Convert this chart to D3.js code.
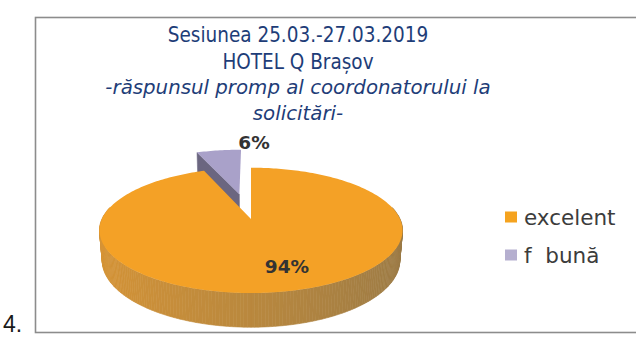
<!DOCTYPE html>
<html>
<head>
<meta charset="utf-8">
<script src="https://cdn.jsdelivr.net/npm/d3@7/dist/d3.min.js"></script>
<style>
  html, body { margin: 0; padding: 0; background: #ffffff; }
  svg { display: block; }
</style>
</head>
<body>
<svg id="chart" width="636" height="338"></svg>
<script>
// Survey answers: share of respondents per rating
const categories = ["excelent", "f  bună"];
const values = [94, 6];
const valueLabels = ["94%", "6%"];
const topColors = ["#F4A126", "#A9A1C9"];
const legendColors = ["#F5A31F", "#B5AFCF"];
const titleLines = ["Sesiunea 25.03.-27.03.2019", "HOTEL Q Brașov"];
const subtitleLines = ["-răspunsul promp al coordonatorului la", "solicitări-"];
const itemNumber = "4.";

const svg = d3.select("#chart");

// Frame around the chart
svg.append("rect")
  .attr("x", 35.5).attr("y", 17.5)
  .attr("width", 700).attr("height", 315)
  .attr("fill", "none").attr("stroke", "#8c8c8c").attr("stroke-width", 1.6);

// Item number outside the frame
svg.append("text")
  .attr("x", 3).attr("y", 332)
  .attr("font-family", "Liberation Sans, Arial, sans-serif")
  .attr("font-size", 23).attr("fill", "#1a1a1a")
  .text(itemNumber);

// Title block
const titleColor = "#1E3D78";
const titleFont = "DejaVu Sans, sans-serif";
const tx = 298;
titleLines.forEach((t, i) => {
  svg.append("text")
    .attr("x", tx).attr("y", 42 + i * 26.5)
    .attr("text-anchor", "middle")
    .attr("font-family", titleFont)
    .attr("font-stretch", "condensed")
    .attr("font-size", 20.5).attr("fill", titleColor)
    .text(t);
});
subtitleLines.forEach((t, i) => {
  svg.append("text")
    .attr("x", tx).attr("y", 94 + i * 26)
    .attr("text-anchor", "middle")
    .attr("font-family", titleFont)
    .attr("font-style", "italic")
    .attr("font-size", 19.8).attr("fill", titleColor)
    .text(t);
});

// --- 3D pie: unit circle in the ground plane, tilted and seen in perspective ---
const cx = 251, cy = 219;     // screen position of the pie centre
const alpha = 24 * Math.PI / 180; // elevation of the view
const u = 0.181;               // perspective strength
const D = Math.cos(alpha) / u;
const f = 149 * D;
const depth = 0.22;            // thickness of the pie (in radius units)
const explode = 0.45;          // offset of the detached slice

function project(X, h, Z) {
  const yc = h * Math.cos(alpha) + Z * Math.sin(alpha);
  const zc = -h * Math.sin(alpha) + Z * Math.cos(alpha);
  const s = f / (D + zc);
  return [cx + X * s, cy - yc * s];
}

const pie = d3.pie().sort(null).value(d => d)(values);
const slices = pie.map((p, i) => {
  const mid = (p.startAngle + p.endAngle) / 2;
  const e = i === 0 ? 0 : explode;
  return {
    ...p, i,
    ox: e * Math.sin(mid), oz: e * Math.cos(mid)
  };
});

function rim(s, a, h) {
  return project(s.ox + Math.sin(a), h, s.oz + Math.cos(a));
}
function centre(s, h) {
  return project(s.ox, h, s.oz);
}
function arcPoints(s, a0, a1, h) {
  const n = Math.max(2, Math.ceil(Math.abs(a1 - a0) / 0.02));
  return d3.range(n + 1).map(k => rim(s, a0 + (a1 - a0) * k / n, h));
}

const line = d3.line();
const g = svg.append("g");

// Side shading of the outer wall: lighter on the left, darker on the right
const wallShade = d3.scaleLinear()
  .domain([-1, 0, 1])
  .range(["#D69436", "#B9883E", "#9A7A46"]);

// draw the detached slice first (it sits behind the big one)
const order = [1, 0];
order.forEach(idx => {
  const s = slices[idx];
  const h = -depth;

  // radial wall at the start edge of the slice (faces the viewer only for the small slice)
  if (idx === 1) {
    const a = s.startAngle;
    const quad = [centre(s, 0), rim(s, a, 0), rim(s, a, h), centre(s, h)];
    g.append("path").attr("d", line(quad) + "Z")
      .attr("fill", "#6B6680").attr("stroke", "#6B6680").attr("stroke-width", 0.5);
  }

  // outer curved wall, front half only, drawn as thin strips
  const a0 = Math.max(s.startAngle, Math.PI / 2 - 0.2);
  const a1 = Math.min(s.endAngle, 3 * Math.PI / 2 + 0.2);
  if (a1 > a0) {
    const n = Math.ceil((a1 - a0) / 0.02);
    d3.range(n).forEach(k => {
      const t0 = a0 + (a1 - a0) * k / n;
      const t1 = a0 + (a1 - a0) * (k + 1) / n;
      const quad = [rim(s, t0, 0), rim(s, t1, 0), rim(s, t1, h), rim(s, t0, h)];
      const c = idx === 0 ? wallShade(Math.sin((t0 + t1) / 2)) : "#7B7594";
      g.append("path").attr("d", line(quad) + "Z")
        .attr("fill", c).attr("stroke", c).attr("stroke-width", 0.6);
    });
  }

  // top face
  const top = [centre(s, 0), ...arcPoints(s, s.startAngle, s.endAngle, 0)];
  g.append("path").attr("d", line(top) + "Z")
    .attr("fill", topColors[idx]);
});

// Value labels
const labelPos = [[287, 273], [254, 149]];
valueLabels.forEach((t, i) => {
  svg.append("text")
    .attr("x", labelPos[i][0]).attr("y", labelPos[i][1])
    .attr("text-anchor", "middle")
    .attr("font-family", "DejaVu Sans, sans-serif")
    .attr("font-weight", "bold")
    .attr("font-size", 18.5).attr("fill", "#333333")
    .text(t);
});

// Legend
const legend = svg.append("g").attr("transform", "translate(505,217)");
categories.forEach((c, i) => {
  const row = legend.append("g").attr("transform", `translate(0,${i * 38})`);
  row.append("rect").attr("x", 0).attr("y", -5.5)
    .attr("width", 12).attr("height", 11).attr("fill", legendColors[i]);
  row.append("text").attr("x", 19).attr("y", 7.5)
    .attr("font-family", "DejaVu Sans, sans-serif")
    .attr("font-size", 21.5).attr("fill", "#3c3c3c")
    .style("white-space", "pre")
    .text(c);
});
</script>
</body>
</html>
